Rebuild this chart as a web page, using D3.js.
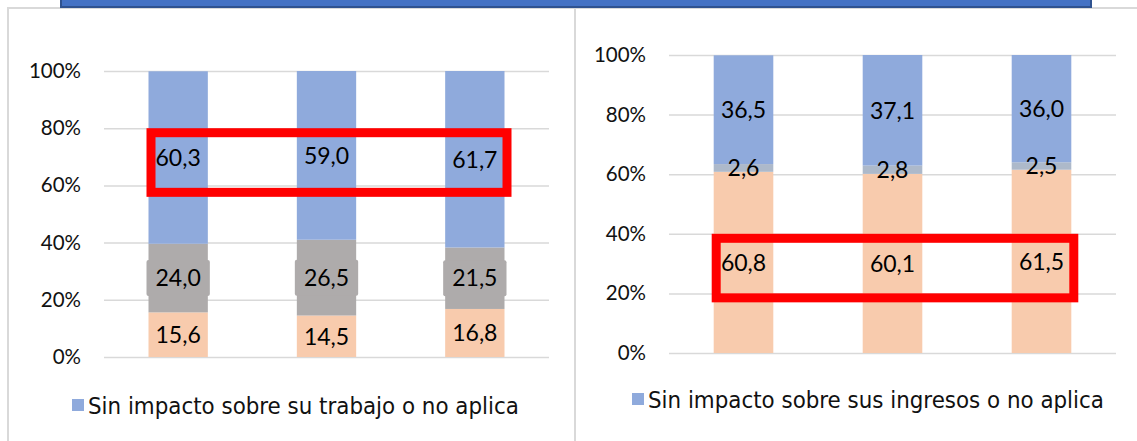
<!DOCTYPE html>
<html>
<head>
<meta charset="utf-8">
<script src="https://cdn.jsdelivr.net/npm/d3@7"></script>
<style>
  body { margin: 0; background: #fff; }
  svg { display: block; }
  .grid line { stroke: #d9d9d9; stroke-width: 1.5; }
  .grid text { font-family: Lato, sans-serif; font-size: 20.5px; fill: #111; }
  .lbl { font-family: Lato, sans-serif; font-size: 23px; fill: #000; }
  .legend text { font-family: "DejaVu Sans Condensed", "DejaVu Sans", sans-serif; font-size: 23.8px; fill: #111; }
</style>
</head>
<body>
<svg id="chart" width="1137" height="441"></svg>
<script>
var categories = ["1", "2", "3"];
var yTicks = [0, 20, 40, 60, 80, 100];

// panel izquierdo: trabajo
var trabajoNaranja = [15.6, 14.5, 16.8];
var trabajoGris = [24.0, 26.5, 21.5];
var trabajoSinImpacto = [60.3, 59.0, 61.7];

// panel derecho: ingresos
var ingresosNaranja = [60.8, 60.1, 61.5];
var ingresosGris = [2.6, 2.8, 2.5];
var ingresosSinImpacto = [36.5, 37.1, 36.0];

// recuadros rojos (rango en %)
var marcoTrabajo = [56, 80];
var marcoIngresos = [17, 40];

var svg = d3.select("#chart");
var fmt = function(v) { return d3.format(".1f")(v).replace(".", ","); };

// marcos de los paneles
svg.append("rect")
  .attr("x", 8).attr("y", 8).attr("width", 567).attr("height", 460)
  .attr("fill", "none").attr("stroke", "#d9d9d9").attr("stroke-width", 2);
svg.append("path")
  .attr("d", "M575,8H1140")
  .attr("stroke", "#d9d9d9").attr("stroke-width", 2);

// banda azul superior
svg.append("rect")
  .attr("x", 61).attr("y", -20).attr("width", 1030).attr("height", 27)
  .attr("fill", "#4472c4").attr("stroke", "#2f528f").attr("stroke-width", 2);

function drawPanel(opt) {
  var x = d3.scaleBand()
      .domain(categories)
      .range([opt.x0, opt.x1])
      .paddingInner(0.6)
      .paddingOuter(0.3);

  var y = d3.scaleLinear()
      .domain([0, 100])
      .range([opt.y0, opt.y1]);

  var g = svg.append("g");

  g.append("g")
    .attr("class", "grid")
    .attr("transform", "translate(" + opt.x0 + ",0)")
    .call(d3.axisLeft(y)
      .tickValues(yTicks)
      .tickSize(-(opt.x1 - opt.x0))
      .tickPadding(23)
      .tickFormat(function(d) { return d + "%"; }))
    .call(function(a) { a.select(".domain").remove(); });

  var rows = categories.map(function(c, i) {
    return { cat: c, a: opt.series[0][i], b: opt.series[1][i], c: opt.series[2][i] };
  });
  var stack = d3.stack().keys(["a", "b", "c"])(rows);

  stack.forEach(function(layer, k) {
    g.append("g")
      .selectAll("rect")
      .data(layer)
      .enter().append("rect")
      .attr("x", function(d) { return x(d.data.cat); })
      .attr("width", x.bandwidth())
      .attr("y", function(d) { return y(d[1]); })
      .attr("height", function(d) { return y(d[0]) - y(d[1]); })
      .attr("fill", opt.colors[k]);
  });

  // recuadro rojo
  var m = opt.marco;
  var bx0 = x(categories[0]) - 2, bx1 = x(categories[categories.length - 1]) + x.bandwidth() + 7;
  g.append("rect")
    .attr("x", bx0 + 4.5)
    .attr("y", y(m[1]) + 4.5)
    .attr("width", bx1 - bx0 - 9)
    .attr("height", y(m[0]) - y(m[1]) - 9)
    .attr("fill", "none")
    .attr("stroke", "#ff0000")
    .attr("stroke-width", 9);

  stack.forEach(function(layer, k) {
    var lg = g.append("g");
    if (opt.labelBox[k]) {
      lg.selectAll("rect")
        .data(layer)
        .enter().append("rect")
        .attr("x", function(d) { return x(d.data.cat) - 2; })
        .attr("width", x.bandwidth() + 4)
        .attr("y", function(d) { return y((d[0] + d[1]) / 2) - 18; })
        .attr("height", 36)
        .attr("rx", 2)
        .attr("fill", opt.colors[k]);
    }
    lg.selectAll("text")
      .data(layer)
      .enter().append("text")
      .attr("class", "lbl")
      .attr("x", function(d) { return x(d.data.cat) + x.bandwidth() / 2; })
      .attr("y", function(d) { return y((d[0] + d[1]) / 2); })
      .attr("dy", "0.36em")
      .attr("text-anchor", "middle")
      .text(function(d) { return fmt(d[1] - d[0]); });
  });

  var leg = svg.append("g").attr("class", "legend")
    .attr("transform", "translate(" + opt.legend[0] + "," + opt.legend[1] + ")");
  leg.append("rect")
    .attr("x", 0).attr("y", -6).attr("width", 12).attr("height", 12)
    .attr("fill", opt.colors[2]);
  leg.append("text")
    .attr("x", 16).attr("y", 0).attr("dy", "0.36em")
    .text(opt.legendText);
}

drawPanel({
  x0: 104, x1: 549, y0: 357, y1: 71,
  series: [trabajoNaranja, trabajoGris, trabajoSinImpacto],
  colors: ["#f8cbad", "#aeabab", "#8faadc"],
  labelBox: [false, true, false],
  marco: marcoTrabajo,
  legend: [72, 405],
  legendText: "Sin impacto sobre su trabajo o no aplica"
});

drawPanel({
  x0: 669, x1: 1116, y0: 353, y1: 55,
  series: [ingresosNaranja, ingresosGris, ingresosSinImpacto],
  colors: ["#f8cbad", "#adb9ca", "#8faadc"],
  labelBox: [false, false, false],
  marco: marcoIngresos,
  legend: [632, 399],
  legendText: "Sin impacto sobre sus ingresos o no aplica"
});
</script>
</body>
</html>
